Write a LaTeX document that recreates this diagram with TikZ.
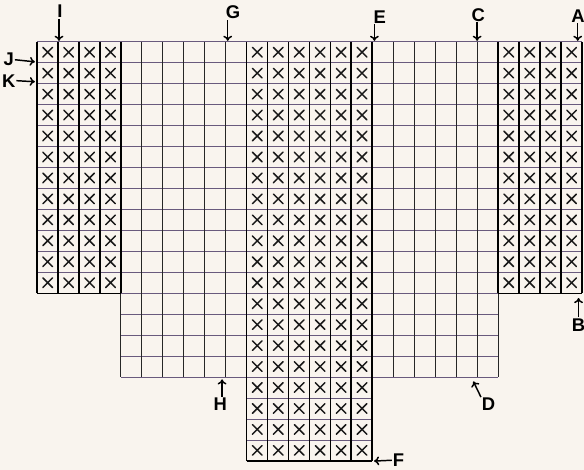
\documentclass[tikz,border=0pt]{standalone}
\usepackage{fontspec}
\setmainfont{Liberation Sans}
\usetikzlibrary{arrows.meta}
\definecolor{paper}{RGB}{249,244,238}
\definecolor{rowline}{RGB}{105,90,125}
\begin{document}
\begin{tikzpicture}[x=0.5cm, y=0.5cm,
  lab/.style={inner sep=0.5pt, font=\fontsize{12.5}{14}\selectfont\bfseries},
  arr/.style={-{To[length=3.5pt,width=6pt]}, line width=1pt},
  hline/.style={rowline, line width=0.7pt},
  vline/.style={black!85, line width=0.55pt},
  vbold/.style={black, line width=1.2pt},
  xmark/.style={black!90, line width=1pt, line cap=round}
]
\fill[paper] (-1.765,-20.42) rectangle (26.10,2.00);
\useasboundingbox (-1.765,-20.42) rectangle (26.10,2.00);

% rows
\foreach \r in {0,...,12} \draw[hline] (0,-\r) -- (26,-\r);
\foreach \r in {13,...,16} \draw[hline] (4,-\r) -- (22,-\r);
\foreach \r in {17,...,20} \draw[hline] (10,-\r) -- (16,-\r);

% plain columns
\foreach \c in {5,...,9} \draw[vline] (\c,0) -- (\c,-16);
\foreach \c in {17,...,21} \draw[vline] (\c,0) -- (\c,-16);
\draw[vline] (4,-12) -- (4,-16);
\draw[vline] (22,-12) -- (22,-16);

% crossed blocks
\foreach \a/\b/\d in {0/4/12, 10/16/20, 22/26/12} {
  \foreach \c in {\a,...,\b} \draw[vbold] (\c,0) -- (\c,-\d);
  \draw[vbold] (\a,-\d) -- (\b,-\d);
}
\foreach \a/\b/\d in {0/3/12, 10/15/20, 22/25/12}
  \foreach \c in {\a,...,\b}
    \foreach \r in {1,...,\d}
      \draw[xmark] (\c+0.28,-\r+0.28) -- (\c+0.74,-\r+0.74)
                   (\c+0.28,-\r+0.74) -- (\c+0.74,-\r+0.28);

% letters
\node[lab] (I) at (1.1,1.45) {I};
\node[lab] (G) at (9.35,1.4) {G};
\node[lab] (E) at (16.35,1.2) {E};
\node[lab] (C) at (21.05,1.3) {C};
\node[lab] (A) at (25.82,1.25) {A};
\node[lab] (J) at (-1.35,-0.85) {J};
\node[lab] (K) at (-1.35,-1.85) {K};
\node[lab] (H) at (8.75,-17.3) {H};
\node[lab] (D) at (21.55,-17.3) {D};
\node[lab] (B) at (25.84,-13.5) {B};
\node[lab] (F) at (17.25,-19.96) {F};

\coordinate (Ia) at (1.05,0.05);
\coordinate (Ga) at (9.1,0.05);
\coordinate (Ea) at (16.1,0.05);
\coordinate (Ca) at (21.0,0.05);
\coordinate (Aa) at (25.8,0.05);
\coordinate (Ja) at (-0.1,-0.95);
\coordinate (Ka) at (-0.1,-1.9);
\coordinate (Ha) at (8.83,-16.1);
\coordinate (Da) at (20.82,-16.2);
\coordinate (Ba) at (25.84,-12.22);
\coordinate (Fa) at (16.08,-20.0);

\draw[arr] (I.south -| Ia) -- (Ia);
\draw[arr] (G.south -| Ga) -- (Ga);
\draw[arr] (E.south -| Ea) -- (Ea);
\draw[arr] (C.south -| Ca) -- (Ca);
\draw[arr] (A.south -| Aa) -- (Aa);
\draw[arr] (J.east) -- (Ja);
\draw[arr] (K.east) -- (Ka);
\draw[arr] (H.north -| Ha) -- (Ha);
\draw[arr] (D.north west) -- (Da);
\draw[arr] (B.north) -- (Ba);
\draw[arr] (F.west) -- (Fa);
\end{tikzpicture}
\end{document}
